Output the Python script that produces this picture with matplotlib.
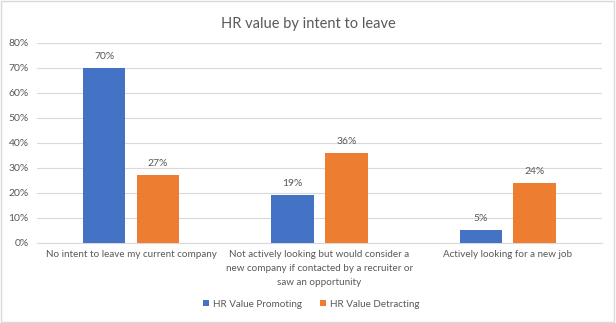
import numpy as np
import matplotlib.pyplot as plt
from matplotlib.patches import Rectangle

plt.rcParams['font.family'] = ['Lato', 'DejaVu Sans']

# Données
categories = [
    "No intent to leave my current company",
    "Not actively looking but would consider a\nnew company if contacted by a recruiter or\nsaw an opportunity",
    "Actively looking for a new job",
]
promoting = [0.70, 0.19, 0.05]
detracting = [0.27, 0.36, 0.24]
series_names = ["HR Value Promoting", "HR Value Detracting"]

BLEU = "#4472C4"
ORANGE = "#ED7D31"
GRIS_TEXTE = "#595959"
GRIS_GRILLE = "#D9D9D9"

fig = plt.figure(figsize=(6.16, 3.23), dpi=100)
ax = fig.add_axes([0.060, 0.248, 0.917, 0.619])

x = np.arange(len(categories))
largeur = 0.225
decalage = 0.143

b1 = ax.bar(x - decalage, promoting, largeur, color=BLEU, label=series_names[0], zorder=3)
b2 = ax.bar(x + decalage, detracting, largeur, color=ORANGE, label=series_names[1], zorder=3)

for barres in (b1, b2):
    for b in barres:
        h = b.get_height()
        ax.annotate(f"{h:.0%}", (b.get_x() + b.get_width() / 2, h),
                    xytext=(0, 5), textcoords="offset points",
                    ha="center", va="bottom", fontsize=7.5, color=GRIS_TEXTE)

ax.set_xlim(-0.5, len(categories) - 0.5)
ax.set_ylim(0, 0.8)
ax.set_yticks(np.arange(0, 0.81, 0.1))
ax.set_yticklabels([f"{v:.0%}" for v in np.arange(0, 0.81, 0.1)])
ax.set_xticks(x)
ax.set_xticklabels(categories, linespacing=1.75, fontsize=7.1)

ax.grid(axis="y", color=GRIS_GRILLE, linewidth=0.8, zorder=0)
ax.tick_params(axis="y", length=0, labelsize=7.5, colors=GRIS_TEXTE, pad=6)
ax.tick_params(axis="x", length=0, colors=GRIS_TEXTE, pad=5)
for cote in ("top", "right", "left"):
    ax.spines[cote].set_visible(False)
ax.spines["bottom"].set_color(GRIS_GRILLE)
ax.spines["bottom"].set_linewidth(0.8)

fig.text(0.5, 0.925, "HR value by intent to leave", ha="center", va="center",
         fontsize=10.5, color=GRIS_TEXTE)

fig.legend(loc="center", bbox_to_anchor=(0.505, 0.058), ncol=2, frameon=False,
           fontsize=7.1, labelcolor=GRIS_TEXTE, handlelength=0.6, handleheight=0.6,
           handletextpad=0.4, columnspacing=1.8)

# bordure du graphique
fig.add_artist(Rectangle((0.002, 0.003), 0.995, 0.993, transform=fig.transFigure,
                         fill=False, edgecolor=GRIS_GRILLE, linewidth=1.0))

fig.savefig("out.png", dpi=100)
